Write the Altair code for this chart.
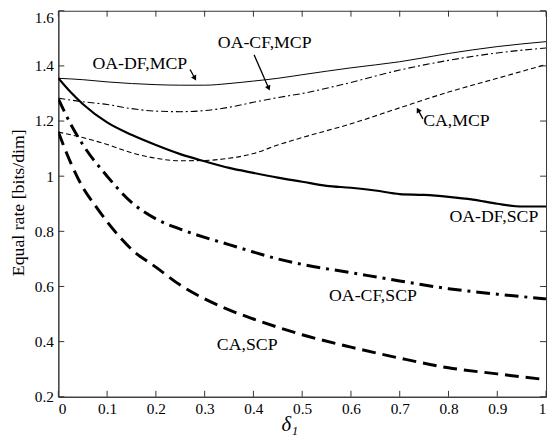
import math
import altair as alt
import pandas as pd

# ---------------- data ----------------
x_oadf_mcp = [0, 0.05, 0.1, 0.15, 0.2, 0.25, 0.3, 0.35, 0.4, 0.45, 0.5, 0.6, 0.7, 0.8, 0.9, 1.0]
y_oadf_mcp = [1.355, 1.35, 1.342, 1.336, 1.332, 1.33, 1.33, 1.336, 1.345, 1.355, 1.368, 1.393, 1.415, 1.445, 1.47, 1.488]

x_oacf_mcp = [0, 0.05, 0.1, 0.15, 0.2, 0.25, 0.3, 0.35, 0.4, 0.45, 0.5, 0.6, 0.7, 0.8, 0.9, 1.0]
y_oacf_mcp = [1.283, 1.27, 1.26, 1.245, 1.236, 1.234, 1.238, 1.25, 1.268, 1.285, 1.30, 1.34, 1.385, 1.42, 1.447, 1.465]

x_ca_mcp = [0, 0.05, 0.1, 0.15, 0.2, 0.25, 0.3, 0.35, 0.4, 0.45, 0.5, 0.6, 0.7, 0.8, 0.9, 1.0]
y_ca_mcp = [1.16, 1.14, 1.115, 1.085, 1.065, 1.056, 1.057, 1.065, 1.082, 1.113, 1.14, 1.19, 1.248, 1.305, 1.355, 1.405]

x_oadf_scp = [0, 0.025, 0.05, 0.1, 0.15, 0.2, 0.25, 0.3, 0.35, 0.4, 0.45, 0.5, 0.55, 0.6, 0.65, 0.7, 0.75, 0.8, 0.85, 0.9, 0.95, 1.0]
y_oadf_scp = [1.355, 1.305, 1.262, 1.195, 1.15, 1.113, 1.08, 1.054, 1.03, 1.012, 0.995, 0.98, 0.965, 0.958, 0.948, 0.935, 0.932, 0.925, 0.915, 0.9, 0.89, 0.89]

x_oacf_scp = [0, 0.025, 0.05, 0.1, 0.15, 0.2, 0.25, 0.3, 0.35, 0.4, 0.45, 0.5, 0.6, 0.7, 0.8, 0.9, 1.0]
y_oacf_scp = [1.28, 1.19, 1.115, 1.0, 0.905, 0.845, 0.808, 0.778, 0.752, 0.725, 0.70, 0.68, 0.65, 0.62, 0.592, 0.572, 0.555]

x_ca_scp = [0, 0.025, 0.05, 0.075, 0.1, 0.15, 0.2, 0.25, 0.3, 0.35, 0.4, 0.45, 0.5, 0.6, 0.7, 0.8, 0.9, 1.0]
y_ca_scp = [1.16, 1.05, 0.96, 0.895, 0.835, 0.735, 0.67, 0.605, 0.555, 0.515, 0.482, 0.452, 0.425, 0.38, 0.34, 0.305, 0.283, 0.262]

x_ticks = [0, 0.1, 0.2, 0.3, 0.4, 0.5, 0.6, 0.7, 0.8, 0.9, 1.0]
y_ticks = [0.2, 0.4, 0.6, 0.8, 1.0, 1.2, 1.4, 1.6]

label_text = ["OA-DF,MCP", "OA-CF,MCP", "CA,MCP", "OA-DF,SCP", "OA-CF,SCP", "CA,SCP"]
label_x = [0.070, 0.327, 0.748, 0.802, 0.555, 0.325]
label_y = [1.387, 1.464, 1.182, 0.833, 0.5475, 0.371]

arrow_x0 = [0.2701, 0.4014, 0.7475]
arrow_y0 = [1.387, 1.440, 1.208]
arrow_x1 = [0.2828, 0.4337, 0.7347]
arrow_y1 = [1.346, 1.309, 1.250]

# ---------------- layout ----------------
W, H = 494, 391
XD, YD = [0, 1], [0.2, 1.6]
FONT = "Liberation Serif, Times New Roman, serif"
PX_X = W / (XD[1] - XD[0])
PX_Y = H / (YD[1] - YD[0])

xs = alt.Scale(domain=XD, nice=False, zero=False)
ys = alt.Scale(domain=YD, nice=False, zero=False)

x_axis = alt.Axis(values=x_ticks, labelExpr="format(datum.value, '~g')", title="δ₁",
                  labelFont=FONT, titleFont=FONT, labelFontSize=15.5, labelColor="black",
                  titleFontStyle="italic", titleFontSize=21, titleFontWeight="normal", titleColor="black",
                  titleX=234, titleY=34, titleBaseline="alphabetic", titleAlign="center",
                  labelPadding=5, grid=False, ticks=False, domainColor="#333333")
y_axis = alt.Axis(values=y_ticks, labelExpr="format(datum.value, '~g')", title="Equal rate [bits/dim]",
                  labelFont=FONT, titleFont=FONT, labelFontSize=15.5, labelColor="black",
                  titleFontSize=18, titleFontWeight="normal", titleAngle=270, titleColor="black",
                  titleX=-40, titleY=194, titleAlign="center", titleBaseline="middle",
                  labelPadding=5, grid=False, ticks=False, domainColor="#333333",
                  labelBaseline={"condition": {"test": "datum.value >= 1.59", "value": "top"}, "value": "middle"})


def line(xv, yv, dash, width):
    df = pd.DataFrame({"x": xv, "y": yv})
    kw = {"strokeWidth": width, "color": "black", "interpolate": "monotone", "clip": True}
    if dash:
        kw["strokeDash"] = dash
    return alt.Chart(df).mark_line(**kw).encode(
        x=alt.X("x:Q", scale=xs, axis=x_axis),
        y=alt.Y("y:Q", scale=ys, axis=y_axis),
    )


layers = [
    line(x_oadf_mcp, y_oadf_mcp, None, 1),
    line(x_oacf_mcp, y_oacf_mcp, [7, 3, 2, 3], 1.1),
    line(x_ca_mcp, y_ca_mcp, [5, 3], 1.1),
    line(x_oadf_scp, y_oadf_scp, None, 2.2),
    line(x_oacf_scp, y_oacf_scp, [14, 6, 3, 6], 3),
    line(x_ca_scp, y_ca_scp, [14, 7], 3),
]

# labels
lab_df = pd.DataFrame({"t": label_text, "x": label_x, "y": label_y})
layers.append(
    alt.Chart(lab_df).mark_text(font=FONT, fontSize=18, align="left", baseline="alphabetic", color="black").encode(
        x=alt.X("x:Q", scale=xs), y=alt.Y("y:Q", scale=ys), text="t:N")
)

# arrows
arr = pd.DataFrame({"x0": arrow_x0, "y0": arrow_y0, "x1": arrow_x1, "y1": arrow_y1})
dxp = (arr.x1 - arr.x0) * PX_X
dyp = -(arr.y1 - arr.y0) * PX_Y
ln = (dxp ** 2 + dyp ** 2) ** 0.5
arr["ang"] = [(math.degrees(math.atan2(a, -b)) + 360) % 360 for a, b in zip(dxp, dyp)]
arr["hx"] = arr.x1 - (dxp / ln) * 3 / PX_X
arr["hy"] = arr.y1 + (dyp / ln) * 3 / PX_Y
layers.append(
    alt.Chart(arr).mark_rule(color="black", strokeWidth=1.3).encode(
        x=alt.X("x0:Q", scale=xs), y=alt.Y("y0:Q", scale=ys), x2="hx:Q", y2="hy:Q")
)
layers.append(
    alt.Chart(arr).mark_point(shape="triangle-up", filled=True, size=35, color="black", opacity=1).encode(
        x=alt.X("hx:Q", scale=xs), y=alt.Y("hy:Q", scale=ys), angle=alt.Angle("ang:Q", scale=None))
)

# inward ticks on all four sides
TL = 6
xt = pd.DataFrame({"v": x_ticks})
yt = pd.DataFrame({"v": y_ticks})
tick_color = "#333333"
layers.append(alt.Chart(xt).mark_rule(color=tick_color, strokeWidth=1).encode(
    x=alt.X("v:Q", scale=xs), y=alt.value(H), y2=alt.value(H - TL)))
layers.append(alt.Chart(xt).mark_rule(color=tick_color, strokeWidth=1).encode(
    x=alt.X("v:Q", scale=xs), y=alt.value(0), y2=alt.value(TL)))
layers.append(alt.Chart(yt).mark_rule(color=tick_color, strokeWidth=1).encode(
    y=alt.Y("v:Q", scale=ys), x=alt.value(0), x2=alt.value(TL)))
layers.append(alt.Chart(yt).mark_rule(color=tick_color, strokeWidth=1).encode(
    y=alt.Y("v:Q", scale=ys), x=alt.value(W), x2=alt.value(W - TL)))

chart = alt.layer(*layers).properties(
    width=W, height=H,
    autosize=alt.AutoSizeParams(type="none"),
    padding={"left": 51, "top": 0, "right": 2, "bottom": 40},
    background="white",
).configure_view(stroke="#333333", strokeWidth=1).configure_axis(
    labelFont=FONT, titleFont=FONT, labelFontSize=15.5, labelColor="black", titleColor="black",
    domainColor="#333333", domainWidth=1,
)

chart.save("out.html", embed_options={"renderer": "svg", "actions": False})
